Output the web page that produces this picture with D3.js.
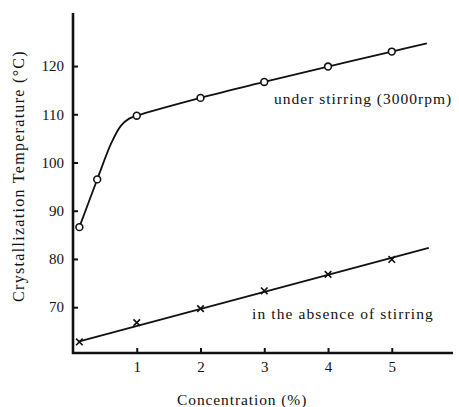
<!DOCTYPE html>
<html>
<head>
<meta charset="utf-8">
<script src="https://cdn.jsdelivr.net/npm/d3@7"></script>
<style>
  body { margin: 0; background: #fff; }
  svg text { font-family: "Liberation Serif", "DejaVu Serif", serif; fill: #111; }
</style>
</head>
<body>
<div id="viz-container"></div>
<script>
// stirring curve: markers + the smooth line through them
let stirX = [0.1, 0.38, 1, 2, 3, 4, 5];
let stirY = [86.6, 96.5, 109.7, 113.4, 116.7, 119.9, 123.0];
let stirLineX = [0.1, 0.38, 0.6, 0.75, 0.88, 1, 2, 3, 4, 5, 5.55];
let stirLineY = [86.6, 96.5, 104.0, 107.6, 109.1, 109.7, 113.4, 116.7, 119.9, 123.0, 124.7];

// no stirring
let stillX = [0.1, 1, 2, 3, 4, 5];
let stillY = [62.8, 66.8, 69.7, 73.4, 76.8, 79.9];
let stillLineX = [0.1, 5.58];
let stillLineY = [62.9, 82.3];

let xTicks = [1, 2, 3, 4, 5];
let yTicks = [70, 80, 90, 100, 110, 120];

let viz = d3.select("#viz-container")
  .append("svg")
    .attr("width", 459)
    .attr("height", 407)
;

let x = d3.scaleLinear().domain([0, 5.96]).range([73, 453]);
let y = d3.scaleLinear().domain([60.5, 131]).range([353, 13]);

let xAxis = d3.axisBottom(x).tickValues(xTicks).tickSize(-5).tickPadding(8).tickFormat(d3.format("d"));
let yAxis = d3.axisLeft(y).tickValues(yTicks).tickSize(-5).tickPadding(9).tickFormat(d3.format("d"));

let gx = viz.append("g").attr("transform", "translate(0," + y(60.5) + ")").call(xAxis);
let gy = viz.append("g").attr("transform", "translate(" + x(0) + ",0)").call(yAxis);

gx.select(".domain").remove();
gy.select(".domain").remove();
viz.selectAll(".tick line").attr("stroke", "#111").attr("stroke-width", 2);
viz.selectAll(".tick text").attr("font-size", 15).attr("font-family", "Liberation Serif, DejaVu Serif, serif").attr("fill", "#111");

// thick axis lines
viz.append("line")
  .attr("x1", x(0) - 1).attr("x2", x(5.96))
  .attr("y1", y(60.5)).attr("y2", y(60.5))
  .attr("stroke", "#111").attr("stroke-width", 2.6);
viz.append("line")
  .attr("x1", x(0)).attr("x2", x(0))
  .attr("y1", y(60.5) + 1).attr("y2", y(131))
  .attr("stroke", "#111").attr("stroke-width", 2.6);

let line = d3.line()
  .x(d => x(d[0]))
  .y(d => y(d[1]))
  .curve(d3.curveCatmullRom.alpha(0.5));

viz.append("path")
  .datum(stirLineX.map((v, i) => [v, stirLineY[i]]))
  .attr("d", line)
  .attr("fill", "none")
  .attr("stroke", "#111")
  .attr("stroke-width", 1.8);

viz.append("path")
  .datum(stillLineX.map((v, i) => [v, stillLineY[i]]))
  .attr("d", d3.line().x(d => x(d[0])).y(d => y(d[1])))
  .attr("fill", "none")
  .attr("stroke", "#111")
  .attr("stroke-width", 1.8);

viz.selectAll(".circ").data(stirX).enter()
  .append("circle")
    .attr("class", "circ")
    .attr("cx", d => x(d))
    .attr("cy", (d, i) => y(stirY[i]))
    .attr("r", 3.4)
    .attr("fill", "#fff")
    .attr("stroke", "#111")
    .attr("stroke-width", 1.6);

viz.selectAll(".cross").data(stillX).enter()
  .append("path")
    .attr("class", "cross")
    .attr("d", d3.symbol().type(d3.symbolX).size(30))
    .attr("transform", (d, i) => "translate(" + x(d) + "," + y(stillY[i]) + ")")
    .attr("fill", "none")
    .attr("stroke", "#111")
    .attr("stroke-width", 1.6);

// labels
viz.append("text")
  .text("under stirring (3000rpm)")
  .attr("x", 274).attr("y", 104)
  .attr("font-size", 15.5)
  .attr("letter-spacing", 1);

viz.append("text")
  .text("in the absence of stirring")
  .attr("x", 252).attr("y", 319)
  .attr("font-size", 15.5)
  .attr("letter-spacing", 1.1);

viz.append("text")
  .text("Concentration (%)")
  .attr("x", 177).attr("y", 405)
  .attr("font-size", 15.5)
  .attr("letter-spacing", 0.9);

viz.append("text")
  .text("Crystallization   Temperature (°C)")
  .attr("transform", "translate(24,176) rotate(-90)")
  .attr("text-anchor", "middle")
  .attr("font-size", 16)
  .attr("letter-spacing", 1.3);
</script>
</body>
</html>
